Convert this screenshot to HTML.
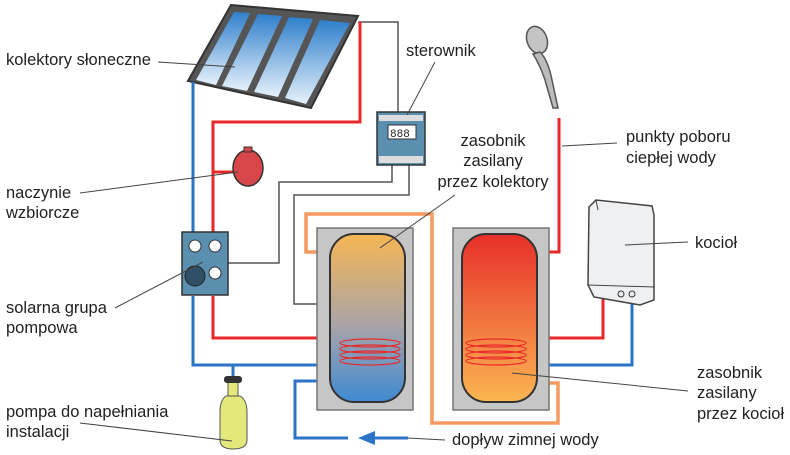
<!DOCTYPE html>
<html><head><meta charset="utf-8"><style>
html,body{margin:0;padding:0;background:#fff;}
svg{display:block;}
text{font-family:"Liberation Sans",sans-serif;font-size:16.5px;fill:#222;}
</style></head><body>
<svg width="790" height="455" viewBox="0 0 790 455" xmlns="http://www.w3.org/2000/svg">
<defs>
<linearGradient id="sky" x1="0" y1="0" x2="0" y2="1"><stop offset="0" stop-color="#2f7fcc"/><stop offset="1" stop-color="#e6f1fb"/></linearGradient>
<linearGradient id="t1" x1="0" y1="0" x2="0" y2="1"><stop offset="0" stop-color="#f6b653"/><stop offset="0.55" stop-color="#a8a4a8"/><stop offset="1" stop-color="#3f8ad3"/></linearGradient>
<linearGradient id="t2" x1="0" y1="0" x2="0" y2="1"><stop offset="0" stop-color="#e72f2a"/><stop offset="1" stop-color="#fbb651"/></linearGradient>
</defs>
<!-- collectors -->
<polygon points="231,5 358,16 311,108 188,81" fill="#555" stroke="#333" stroke-width="2"/>
<polygon points="234,12 250,13 216,85 196,80" fill="url(#sky)"/>
<polygon points="258,14 282,16 247,91 222,86" fill="url(#sky)"/>
<polygon points="289,17 313,19 278,97 254,92" fill="url(#sky)"/>
<polygon points="320,20 350,23 306,104 285,98" fill="url(#sky)"/>
<!-- gray wires -->
<g fill="none" stroke="#555" stroke-width="1.5">
<polyline points="358,22 398,22 398,112"/>
<polyline points="392,165 392,182 279,182 279,263 228,263"/>
<polyline points="409,165 409,195 294,195 294,304 320,304"/>
</g>
<!-- blue pipes -->
<g fill="none" stroke="#2a73c6" stroke-width="3">
<polyline points="193,82 193,232"/>
<polyline points="193,296 193,365 322,365"/>
<polyline points="233,365 233,400"/>
<polyline points="330,381 295,381 295,438 348,438"/>
<polyline points="375,438 408,438"/>
<polyline points="537,365 632,365 632,288"/>
</g>
<polygon points="358,438 375,431 375,445" fill="#2a73c6"/>
<!-- red pipes -->
<g fill="none" stroke="#e8282a" stroke-width="3">
<polyline points="360,22 360,122 213,122 213,232"/>
<polyline points="213,172 236,172"/>
<polyline points="213,296 213,338 330,338"/>
<polyline points="537,252 559,252 559,118"/>
<polyline points="603,290 603,338 537,338"/>
</g>
<!-- orange loop -->
<polyline points="330,252 306,252 306,214 432,214 432,423 558,423 558,383 537,383" fill="none" stroke="#f79a62" stroke-width="3.5"/>
<!-- tanks -->
<rect x="317" y="228" width="96" height="182" fill="#c6c6c6" stroke="#777" stroke-width="1.5"/>
<rect x="330" y="234" width="75" height="168" rx="24" fill="url(#t1)" stroke="#333" stroke-width="2"/>
<rect x="453" y="228" width="96" height="182" fill="#c6c6c6" stroke="#777" stroke-width="1.5"/>
<rect x="462" y="234" width="75" height="168" rx="24" fill="url(#t2)" stroke="#333" stroke-width="2"/>
<!-- coils -->
<g fill="none" stroke="#e8282a" stroke-width="1.2">
<ellipse cx="370" cy="343" rx="30" ry="4"/><ellipse cx="370" cy="349" rx="30" ry="4"/><ellipse cx="370" cy="355" rx="30" ry="4"/><ellipse cx="370" cy="361" rx="30" ry="4"/>
<ellipse cx="496" cy="343" rx="30" ry="4"/><ellipse cx="496" cy="349" rx="30" ry="4"/><ellipse cx="496" cy="355" rx="30" ry="4"/><ellipse cx="496" cy="361" rx="30" ry="4"/>
</g>
<!-- controller -->
<rect x="377" y="112" width="48" height="53" fill="#5a8fb0" stroke="#333" stroke-width="1.5"/>
<rect x="379" y="115" width="44" height="6" fill="#ddd"/>
<rect x="379" y="156" width="44" height="7" fill="#ddd"/>
<rect x="388" y="125" width="28" height="14" fill="#fff" stroke="#333"/>
<text x="390" y="137" style="font-size:11px;font-family:'Liberation Mono',monospace">888</text>
<!-- expansion vessel -->
<ellipse cx="248" cy="168" rx="15" ry="18" fill="#d8454a" stroke="#333" stroke-width="1.5"/>
<rect x="244" y="147" width="8" height="5" fill="#d8454a" stroke="#333"/>
<!-- pump group -->
<rect x="182" y="232" width="46" height="63" fill="#5a8fb0" stroke="#333" stroke-width="1.5"/>
<circle cx="195" cy="246" r="6" fill="#fff" stroke="#333"/>
<circle cx="215" cy="246" r="6" fill="#fff" stroke="#333"/>
<circle cx="215" cy="273" r="6" fill="#fff" stroke="#333"/>
<circle cx="195" cy="276" r="10" fill="#2f4f66" stroke="#222"/>
<!-- fill pump -->
<path d="M226,396 Q220,400 220,412 L220,440 Q220,449 233,449 Q247,449 247,440 L247,412 Q247,400 240,396 Z" fill="#e2e87a" stroke="#555"/>
<rect x="228" y="382" width="10" height="14" fill="#e2e87a" stroke="#555"/>
<rect x="224" y="376" width="18" height="7" rx="3" fill="#333"/>
<!-- shower -->
<ellipse cx="537" cy="40" rx="10" ry="14" transform="rotate(-20 537 40)" fill="#c4c4c4" stroke="#555" stroke-width="1.5"/>
<path d="M540,52 Q548,60 552,80 L558,108 L553,108 L545,80 Q540,65 533,54 Z" fill="#bbb" stroke="#555" stroke-width="1.5"/>
<!-- boiler -->
<polygon points="589,207 596,200 652,206 654,215 654,300 640,305 594,297 588,285" fill="#eef0f2" stroke="#444" stroke-width="1.5"/>
<line x1="596" y1="200" x2="598" y2="210" stroke="#444"/>
<line x1="588" y1="285" x2="654" y2="287" stroke="#444"/>
<circle cx="621" cy="294" r="3" fill="none" stroke="#333"/><circle cx="632" cy="294" r="3" fill="none" stroke="#333"/>
<!-- label lines -->
<g stroke="#444" stroke-width="1" fill="none">
<line x1="158" y1="62" x2="235" y2="67"/>
<line x1="80" y1="193" x2="238" y2="172"/>
<line x1="115" y1="308" x2="203" y2="262"/>
<line x1="80" y1="423" x2="232" y2="441"/>
<line x1="435" y1="62" x2="407" y2="115"/>
<line x1="455" y1="195" x2="380" y2="248"/>
<line x1="562" y1="146" x2="617" y2="143"/>
<line x1="625" y1="245" x2="688" y2="242"/>
<line x1="512" y1="373" x2="688" y2="391"/>
<line x1="408" y1="438" x2="445" y2="440"/>
</g>
<!-- labels -->
<text x="6" y="65">kolektory słoneczne</text>
<text x="6" y="198">naczynie</text>
<text x="6" y="218">wzbiorcze</text>
<text x="6" y="313">solarna grupa</text>
<text x="6" y="333">pompowa</text>
<text x="6" y="417">pompa do napełniania</text>
<text x="6" y="437">instalacji</text>
<text x="406" y="56">sterownik</text>
<text x="493" y="146" text-anchor="middle">zasobnik</text>
<text x="493" y="166" text-anchor="middle">zasilany</text>
<text x="493" y="187" text-anchor="middle">przez kolektory</text>
<text x="626" y="142">punkty poboru</text>
<text x="626" y="163">ciepłej wody</text>
<text x="695" y="248">kocioł</text>
<text x="697" y="378">zasobnik</text>
<text x="697" y="398">zasilany</text>
<text x="697" y="419">przez kocioł</text>
<text x="452" y="445">dopływ zimnej wody</text>
</svg>
</body></html>
